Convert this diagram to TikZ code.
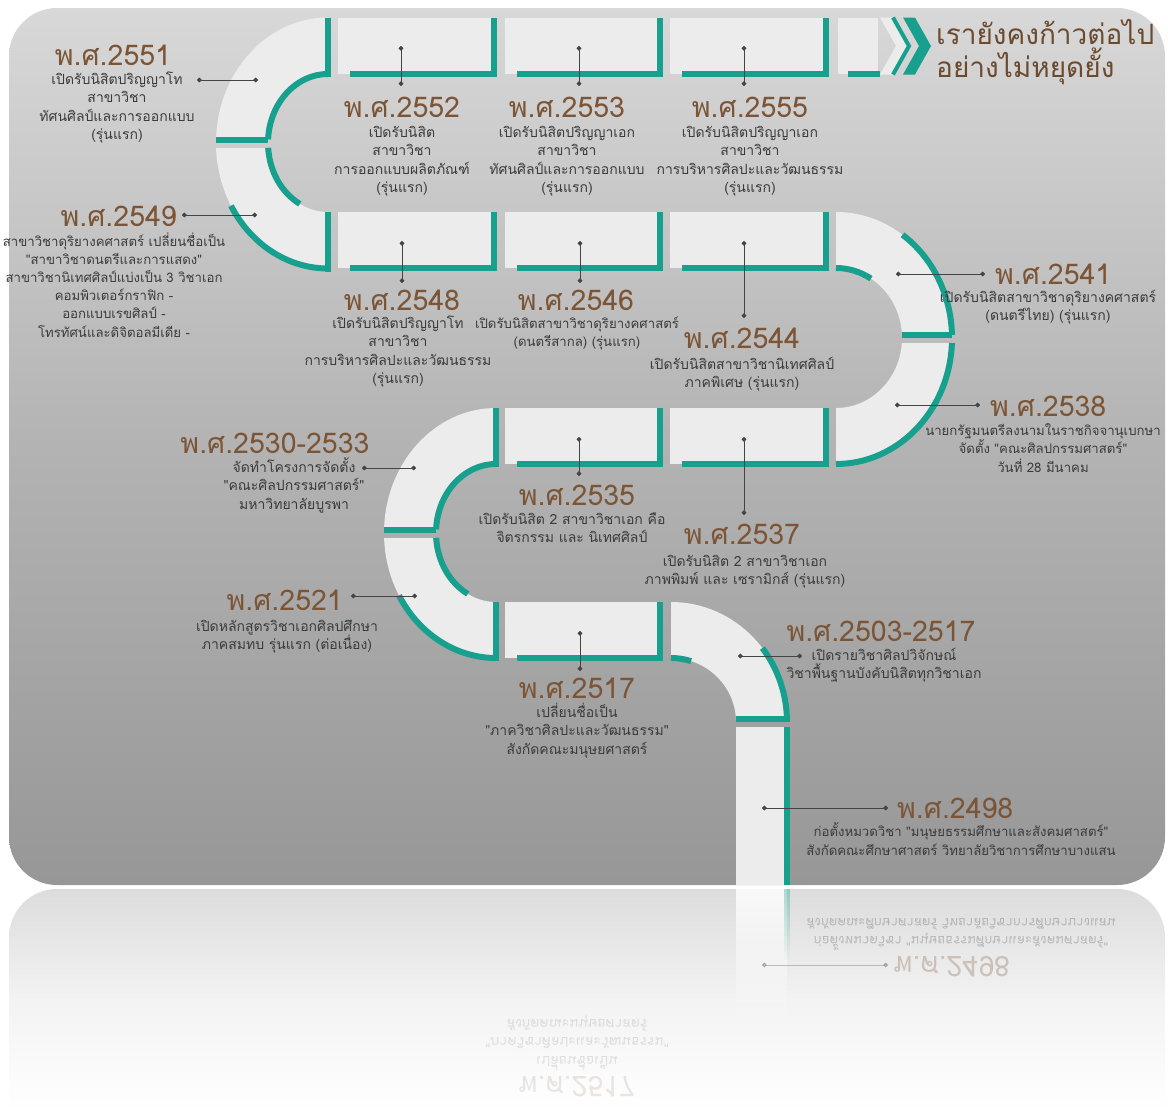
\documentclass[tikz,border=0pt]{standalone}
\usepackage{fontspec}
\newfontfamily\thai[Script=Thai]{Loma}
\usetikzlibrary{arrows.meta,fadings}

\definecolor{roadteal}{HTML}{17A08D}
\definecolor{roadfill}{HTML}{ECECEC}
\definecolor{yearbrown}{HTML}{7B5535}
\definecolor{titlebrown}{HTML}{6B4A2E}
\definecolor{bodyink}{HTML}{3D3B3A}
\definecolor{cardtop}{HTML}{D8D8D8}
\definecolor{cardmid}{HTML}{B3B3B3}
\definecolor{cardbot}{HTML}{979797}
\definecolor{linkgray}{HTML}{444444}
\definecolor{floortop}{HTML}{DCDCDC}

% bands of the three bends and of the final drop
\def\bendNW{(328,17.5) arc[start angle=270,end angle=90,x radius=112,y radius=125.5] -- (328,212) arc[start angle=90,end angle=270,x radius=60,y radius=69] -- cycle}
\def\bendE{(836,212) arc[start angle=-90,end angle=90,x radius=116,y radius=126] -- (836,408) arc[start angle=90,end angle=-90,x radius=66,y radius=70] -- cycle}
\def\bendSW{(496,408) arc[start angle=270,end angle=90,x radius=112,y radius=125] -- (496,602) arc[start angle=90,end angle=270,x radius=60,y radius=69] -- cycle}
\def\bendDrop{(671,602) arc[start angle=-90,end angle=0,x radius=116,y radius=120] -- (736,722) arc[start angle=0,end angle=-90,x radius=65,y radius=64] -- cycle}

\begin{document}
\begin{tikzpicture}[x=1pt,y=-1pt,
  yr/.style={font=\thai\fontsize{28.5}{30}\selectfont, text=yearbrown, inner sep=0pt, anchor=base},
  % multi-line notes are placed by the baseline of their last line
  body/.style={font=\thai\fontsize{14}{18.5}\selectfont, text=bodyink, inner sep=0pt, align=center, anchor=base},
  smallbody/.style={body, font=\thai\fontsize{13.2}{18.2}\selectfont},
  headline/.style={font=\thai\fontsize{28}{33}\selectfont, text=titlebrown, inner sep=0pt, anchor=base west},
  piece/.style={fill=roadfill},
  rim/.style={draw=roadteal, line width=6pt},
  link/.style={draw=linkgray, line width=0.9pt, arrows={Circle[length=4.6pt]-Circle[length=4.6pt]}},
  ghost/.style={text opacity=0.28, transform shape},
]
\path[use as bounding box] (0,0) rectangle (1168,1111);

% ---------- floor reflection ----------
\shade[top color=floortop, bottom color=white, middle color=floortop!35!white]
  (9,1111) -- (9,937) arc[start angle=180,end angle=270,radius=48]
  -- (1117,889) arc[start angle=270,end angle=360,radius=48] -- (1165,1111) -- cycle;
\fill[white, path fading=south, fill opacity=0.85] (736,889) rectangle (787,1030);
\fill[roadteal, path fading=south, fill opacity=0.35] (784,889) rectangle (790,960);
\begin{scope}[shift={(0,1773)}, yscale=-1]
  \node[yr, ghost] (f2498) at (952,817) {พ.ศ.2498};
  \node[smallbody, ghost] (g2498) at (961,855) {ก่อตั้งหมวดวิชา "มนุษยธรรมศึกษาและสังคมศาสตร์"\\สังกัดคณะศึกษาศาสตร์ วิทยาลัยวิชาการศึกษาบางแสน};
  \coordinate (fr2498) at (762,808);
  \coordinate (fl2498) at (888,808);
  \draw[link, opacity=0.3] (fr2498) -- (fl2498);
  \node[yr, ghost, text opacity=0.14] (f2517) at (577,697) {พ.ศ.2517};
  \node[body, ghost, text opacity=0.14] (g2517) at (577,754) {เปลี่ยนชื่อเป็น\\"ภาควิชาศิลปะและวัฒนธรรม"\\สังกัดคณะมนุษยศาสตร์};
\end{scope}

% ---------- card ----------
\shade[top color=cardtop, bottom color=cardbot, middle color=cardmid, rounded corners=48pt]
  (9,8) rectangle (1165,885);

% ---------- road ----------
% upper-left bend
\begin{scope}\clip (0,0) rectangle (1168,140); \fill[piece] \bendNW; \end{scope}
\begin{scope}\clip (0,148) rectangle (1168,1111); \fill[piece] \bendNW; \end{scope}
\draw[rim] (328,74) arc[start angle=270,end angle=183,x radius=60,y radius=69];
\draw[rim] (216,140) -- (268.1,140);
\draw[rim] (328,17.5) -- (328,77);
\draw[rim] ([shift={(328,143)}]176:60 and 69) arc[start angle=176,end angle=118,x radius=60,y radius=69];
\draw[rim] ([shift={(328,143)}]150:112 and 125.5) arc[start angle=150,end angle=90,x radius=112,y radius=125.5];
\draw[rim] (328,212) -- (328,271.5);

% right bend
\begin{scope}\clip (0,0) rectangle (1168,335); \fill[piece] \bendE; \end{scope}
\begin{scope}\clip (0,343) rectangle (1168,1111); \fill[piece] \bendE; \end{scope}
\draw[rim] (836,268) arc[start angle=-90,end angle=-58,x radius=66,y radius=70];
\draw[rim] ([shift={(836,338)}]-55:116 and 126) arc[start angle=-55,end angle=-1.4,x radius=116,y radius=126];
\draw[rim] (901.9,335) -- (952,335);
\draw[rim] ([shift={(836,338)}]2.3:116 and 126) arc[start angle=2.3,end angle=90,x radius=116,y radius=126];

% lower-left bend
\begin{scope}\clip (0,0) rectangle (1168,530); \fill[piece] \bendSW; \end{scope}
\begin{scope}\clip (0,538) rectangle (1168,1111); \fill[piece] \bendSW; \end{scope}
\draw[rim] (496,464) arc[start angle=270,end angle=183,x radius=60,y radius=69];
\draw[rim] (384,530) -- (436.1,530);
\draw[rim] (496,408) -- (496,467);
\draw[rim] ([shift={(496,533)}]176:60 and 69) arc[start angle=176,end angle=118,x radius=60,y radius=69];
\draw[rim] ([shift={(496,533)}]150:112 and 125) arc[start angle=150,end angle=90,x radius=112,y radius=125];
\draw[rim] (496,602) -- (496,661);

% drop towards the bottom
\begin{scope}\clip (0,0) rectangle (1168,719); \fill[piece] \bendDrop; \end{scope}
\draw[rim] (671,658) arc[start angle=-90,end angle=-72,x radius=65,y radius=64];
\draw[rim] ([shift={(671,722)}]-38:116 and 120) arc[start angle=-38,end angle=-1.5,x radius=116,y radius=120];
\draw[rim] (736,719) -- (790,719);
\fill[piece] (736,727) rectangle (787,885);
\draw[rim] (787,727) -- (787,885);

% straight blocks
\foreach \xa/\xb/\ya/\yb in {338/494/17.5/74, 505/660/17.5/74, 670/826/17.5/74,
                             338/494/212/268, 505/660/212/268, 670/826/212/268,
                             505/660/408/464, 670/826/408/464, 505/660/602/658} {
  \fill[piece] (\xa,\ya) rectangle (\xb,\yb);
  \draw[rim] (\xa+12,\yb) -- (\xb,\yb) -- (\xb,\ya);
}
% short block and arrow heads at the top
\fill[piece] (838,17.5) rectangle (878,74);
\draw[rim] (848,74) -- (880,74);
\fill[piece] (880,17.5) -- (893,17.5) -- (909,46) -- (893,74.5) -- (880,74.5) -- (896,46) -- cycle;
\draw[roadteal, line width=4pt] (893,17.5) -- (909,46) -- (893,74.5);
\fill[roadteal] (903,17.5) -- (915,17.5) -- (931,46) -- (915,74.5) -- (903,74.5) -- (919,46) -- cycle;

% ---------- motto ----------
\node[headline] (motto1) at (936,44) {เรายังคงก้าวต่อไป};
\node[headline] (motto2) at (936,77) {อย่างไม่หยุดยั้ง};

% ---------- milestones ----------
\node[yr] (y2551) at (113,65) {พ.ศ.2551};
\node[body] (t2551) at (117,139.5) {เปิดรับนิสิตปริญญาโท\\สาขาวิชา\\ทัศนศิลป์และการออกแบบ\\(รุ่นแรก)};

\node[yr] (y2552) at (402,117) {พ.ศ.2552};
\node[body] (t2552) at (402,192.5) {เปิดรับนิสิต\\สาขาวิชา\\การออกแบบผลิตภัณฑ์\\(รุ่นแรก)};

\node[yr] (y2553) at (567,117) {พ.ศ.2553};
\node[body] (t2553) at (567,192.5) {เปิดรับนิสิตปริญญาเอก\\สาขาวิชา\\ทัศนศิลป์และการออกแบบ\\(รุ่นแรก)};

\node[yr] (y2555) at (750,117) {พ.ศ.2555};
\node[body] (t2555) at (750,192.5) {เปิดรับนิสิตปริญญาเอก\\สาขาวิชา\\การบริหารศิลปะและวัฒนธรรม\\(รุ่นแรก)};

\node[yr, anchor=base east] (y2549) at (177,226) {พ.ศ.2549};
\node[smallbody] (t2549) at (114,337) {สาขาวิชาดุริยางคศาสตร์ เปลี่ยนชื่อเป็น\\"สาขาวิชาดนตรีและการแสดง"\\สาขาวิชานิเทศศิลป์แบ่งเป็น 3 วิชาเอก\\คอมพิวเตอร์กราฟิก -\\ออกแบบเรขศิลป์ -\\โทรทัศน์และดิจิตอลมีเดีย -};

\node[yr] (y2548) at (402,310) {พ.ศ.2548};
\node[body] (t2548) at (398,383.5) {เปิดรับนิสิตปริญญาโท\\สาขาวิชา\\การบริหารศิลปะและวัฒนธรรม\\(รุ่นแรก)};

\node[yr] (y2546) at (576,310) {พ.ศ.2546};
\node[smallbody] (t2546) at (577,346.5) {เปิดรับนิสิตสาขาวิชาดุริยางคศาสตร์\\(ดนตรีสากล) (รุ่นแรก)};

\node[yr] (y2544) at (742,348) {พ.ศ.2544};
\node[body] (t2544) at (742,387.5) {เปิดรับนิสิตสาขาวิชานิเทศศิลป์\\ภาคพิเศษ (รุ่นแรก)};

\node[yr, anchor=base west] (y2541) at (995,284) {พ.ศ.2541};
\node[body] (t2541) at (1048,320.5) {เปิดรับนิสิตสาขาวิชาดุริยางคศาสตร์\\(ดนตรีไทย) (รุ่นแรก)};

\node[yr, anchor=base west] (y2538) at (990,416) {พ.ศ.2538};
\node[smallbody] (t2538) at (1043,472) {นายกรัฐมนตรีลงนามในราชกิจจานุเบกษา\\จัดตั้ง "คณะศิลปกรรมศาสตร์"\\วันที่ 28 มีนาคม};

\node[yr] (y2530) at (275,453) {พ.ศ.2530-2533};
\node[body] (t2530) at (294,509) {จัดทำโครงการจัดตั้ง\\"คณะศิลปกรรมศาสตร์"\\มหาวิทยาลัยบูรพา};

\node[yr] (y2535) at (577,505) {พ.ศ.2535};
\node[body] (t2535) at (572,542.5) {เปิดรับนิสิต 2 สาขาวิชาเอก คือ\\จิตรกรรม และ นิเทศศิลป์};

\node[yr] (y2537) at (742,544) {พ.ศ.2537};
\node[body] (t2537) at (745,584.5) {เปิดรับนิสิต 2 สาขาวิชาเอก\\ภาพพิมพ์ และ เซรามิกส์ (รุ่นแรก)};

\node[yr, anchor=base east] (y2521) at (343,610) {พ.ศ.2521};
\node[body] (t2521) at (287,649.5) {เปิดหลักสูตรวิชาเอกศิลปศึกษา\\ภาคสมทบ รุ่นแรก (ต่อเนื่อง)};

\node[yr] (y2503) at (881,641) {พ.ศ.2503-2517};
\node[body] (t2503) at (884,678.5) {เปิดรายวิชาศิลปวิจักษณ์\\วิชาพื้นฐานบังคับนิสิตทุกวิชาเอก};

\node[yr] (y2517) at (577,698) {พ.ศ.2517};
\node[body] (t2517) at (577,754) {เปลี่ยนชื่อเป็น\\"ภาควิชาศิลปะและวัฒนธรรม"\\สังกัดคณะมนุษยศาสตร์};

\node[yr, anchor=base west] (y2498) at (897,818) {พ.ศ.2498};
\node[smallbody] (t2498) at (961,855) {ก่อตั้งหมวดวิชา "มนุษยธรรมศึกษาและสังคมศาสตร์"\\สังกัดคณะศึกษาศาสตร์ วิทยาลัยวิชาการศึกษาบางแสน};

% ---------- leader lines: label end -> point on the road ----------
\foreach \id/\lx/\ly/\rx/\ry in {2551/197/80/258/80, 2549/182/215/257/215,
    2541/985/274/896/274, 2538/980/405/895/405, 2530/362/468/416/468,
    2521/351/596/417/596, 2503/802/656/738/656, 2498/888/808/762/808,
    2552/401/86/401/46, 2553/579/86/579/46, 2555/744/86/744/46,
    2548/402/283/402/241, 2546/580/283/580/241, 2544/744/318/744/241,
    2535/579/476/579/437, 2537/744/515/744/437, 2517/580/671/580/631} {
  \coordinate (lbl\id) at (\lx,\ly);
  \coordinate (road\id) at (\rx,\ry);
  \draw[link] (lbl\id) -- (road\id);
}
\end{tikzpicture}
\end{document}
